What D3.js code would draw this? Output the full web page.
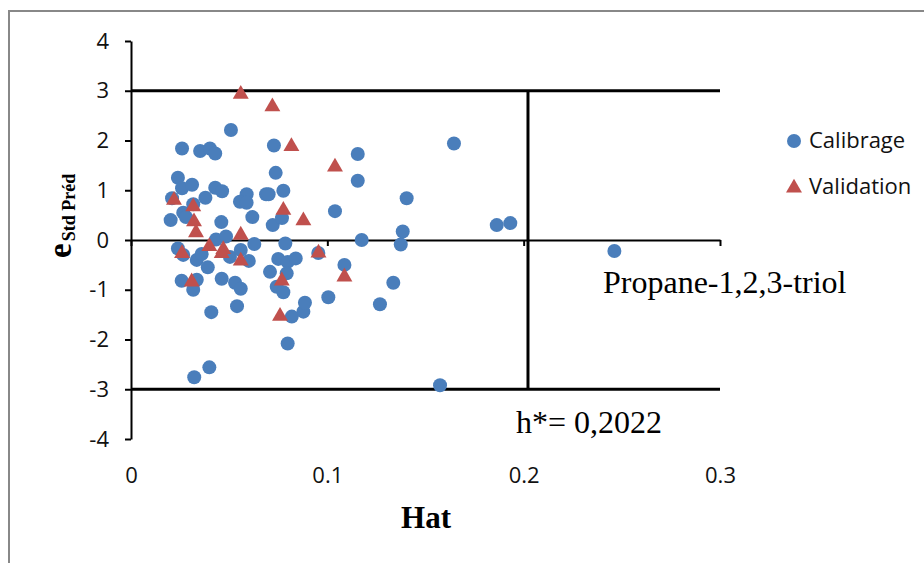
<!DOCTYPE html>
<html>
<head>
<meta charset="utf-8">
<script src="https://cdn.jsdelivr.net/npm/d3@7"></script>
<style>
  body { margin: 0; background: #fff; }
</style>
</head>
<body>
<script>
// Calibrage (blue circles): leverage (hat) and standardized residual
const calHat = [0.0509, 0.0260, 0.0352, 0.0402, 0.0429, 0.0728, 0.0737, 0.0239, 0.0260, 0.0311,
  0.0429, 0.0464, 0.0589, 0.0555, 0.0589, 0.0688, 0.0701, 0.0776, 0.0209, 0.0379,
  0.0317, 0.0266, 0.0280, 0.0202, 0.0460, 0.0618, 0.0722, 0.0769, 0.0433, 0.0484,
  0.0628, 0.0786, 0.0239, 0.0266, 0.0335, 0.0360, 0.0391, 0.0504, 0.0559, 0.0600,
  0.0750, 0.0798, 0.0839, 0.0708, 0.0793, 0.0742, 0.0776, 0.0258, 0.0317, 0.0335,
  0.0462, 0.0530, 0.0559, 0.0409, 0.0540, 0.0819, 0.0878, 0.0886, 0.0798, 0.0399,
  0.0322, 0.1155, 0.1155, 0.1404, 0.1039, 0.1645, 0.1384, 0.1374, 0.1175, 0.1087,
  0.1336, 0.1005, 0.1268, 0.1574, 0.0954, 0.1863, 0.1932, 0.2462];
const calE = [2.21, 1.84, 1.79, 1.84, 1.74, 1.90, 1.35, 1.25, 1.04, 1.11,
  1.05, 0.98, 0.92, 0.77, 0.75, 0.92, 0.92, 0.99, 0.84, 0.85,
  0.72, 0.55, 0.46, 0.40, 0.36, 0.46, 0.30, 0.44, 0.01, 0.07,
  -0.08, -0.07, -0.17, -0.30, -0.40, -0.28, -0.55, -0.34, -0.20, -0.42,
  -0.38, -0.44, -0.37, -0.64, -0.67, -0.94, -1.05, -0.82, -1.00, -0.80,
  -0.78, -0.86, -0.98, -1.45, -1.33, -1.54, -1.44, -1.26, -2.08, -2.56,
  -2.76, 1.73, 1.19, 0.84, 0.58, 1.94, 0.17, -0.09, 0.00, -0.50,
  -0.86, -1.15, -1.29, -2.92, -0.26, 0.30, 0.34, -0.22];

// Validation (red triangles)
const valHat = [0.0559, 0.0720, 0.0817, 0.1039, 0.0219, 0.0317, 0.0776, 0.0321, 0.0878, 0.0331,
  0.0559, 0.0399, 0.0470, 0.0462, 0.0260, 0.0955, 0.0559, 0.1087, 0.0309, 0.0768, 0.0759];
const valE = [2.93, 2.68, 1.88, 1.47, 0.80, 0.67, 0.60, 0.37, 0.39, 0.15,
  0.10, -0.13, -0.19, -0.27, -0.27, -0.26, -0.42, -0.74, -0.84, -0.82, -1.53];

const xTicks = [0, 0.1, 0.2, 0.3];
const yTicks = [-4, -3, -2, -1, 0, 1, 2, 3, 4];
const hStar = 0.2022;
const eLimit = 3;

const width = 924, height = 563;
const blue = "#4a7ebb", red = "#c0504d";
const tickFont = "'Open Sans', sans-serif";
const serif = "'Liberation Serif', 'Times New Roman', serif";

const svg = d3.select("body").append("svg")
    .attr("width", width)
    .attr("height", height);

// chart frame (runs off the right and bottom of the page)
svg.append("rect")
    .attr("x", 9).attr("y", 11)
    .attr("width", 1000).attr("height", 1000)
    .attr("fill", "none")
    .attr("stroke", "#888")
    .attr("stroke-width", 2);

const x = d3.scaleLinear().domain([0, 0.3]).range([131, 720]);
const y = d3.scaleLinear().domain([-4, 4]).range([439, 41]);

// y axis
const yAxis = svg.append("g")
    .attr("transform", `translate(${x(0)},0)`)
    .call(d3.axisLeft(y).tickValues(yTicks).tickFormat(d => String(d))
      .tickSize(6).tickSizeOuter(0).tickPadding(16));
yAxis.select(".domain").attr("stroke", "#000").attr("stroke-width", 2);
yAxis.selectAll(".tick line").attr("stroke", "#000").attr("stroke-width", 2);
yAxis.selectAll("text")
    .attr("font-family", tickFont).attr("font-size", 22).attr("fill", "#111");

// x axis crosses at e = 0, labels sit low
const xAxis = svg.append("g")
    .attr("transform", `translate(0,${y(0)})`)
    .call(d3.axisBottom(x).tickValues(xTicks).tickFormat(d3.format("~g"))
      .tickSize(6).tickSizeOuter(0));
xAxis.select(".domain").attr("stroke", "#000").attr("stroke-width", 2);
xAxis.selectAll(".tick line").attr("stroke", "#000").attr("stroke-width", 2);
xAxis.selectAll("text")
    .attr("y", 483 - y(0)).attr("dy", 0)
    .attr("font-family", tickFont).attr("font-size", 22).attr("fill", "#111");

// limit lines
svg.selectAll(".limit")
    .data([eLimit, -eLimit])
    .enter().append("line")
    .attr("x1", x(0)).attr("x2", x(0.3))
    .attr("y1", d => y(d)).attr("y2", d => y(d))
    .attr("stroke", "#000").attr("stroke-width", 3);

svg.append("line")
    .attr("x1", x(hStar)).attr("x2", x(hStar))
    .attr("y1", y(eLimit)).attr("y2", y(-eLimit))
    .attr("stroke", "#000").attr("stroke-width", 3);

// calibrage points
svg.append("g").selectAll("circle")
    .data(calHat.map((h, i) => [h, calE[i]]))
    .enter().append("circle")
    .attr("cx", d => x(d[0]))
    .attr("cy", d => y(d[1]))
    .attr("r", 7)
    .attr("fill", blue);

// validation points
const tri = d3.symbol().type(d3.symbolTriangle).size(110);
svg.append("g").selectAll("path")
    .data(valHat.map((h, i) => [h, valE[i]]))
    .enter().append("path")
    .attr("d", tri)
    .attr("transform", d => `translate(${x(d[0])},${y(d[1])})`)
    .attr("fill", red);

// annotations
svg.append("text")
    .attr("x", 603).attr("y", 293)
    .attr("font-family", serif).attr("font-size", 32)
    .text("Propane-1,2,3-triol");

svg.append("text")
    .attr("x", 516).attr("y", 433)
    .attr("font-family", serif).attr("font-size", 32)
    .text("h*= 0,2022");

// axis titles
svg.append("text")
    .attr("x", 426).attr("y", 528)
    .attr("text-anchor", "middle")
    .attr("font-family", serif).attr("font-size", 31).attr("font-weight", "bold")
    .text("Hat");

const yTitle = svg.append("text")
    .attr("transform", "translate(71,258) rotate(-90)")
    .attr("font-family", serif).attr("font-weight", "bold");
yTitle.append("tspan").attr("font-size", 33).text("e");
yTitle.append("tspan").attr("font-size", 18).attr("dx", 2).attr("dy", 4).text("Std Préd");

// legend
const legend = svg.append("g").attr("font-family", tickFont).attr("font-size", 22);
legend.append("circle").attr("cx", 794).attr("cy", 141).attr("r", 7).attr("fill", blue);
legend.append("text").attr("x", 809).attr("y", 148).attr("fill", "#111").text("Calibrage");
legend.append("path").attr("d", tri)
    .attr("transform", "translate(794,188)").attr("fill", red);
legend.append("text").attr("x", 809).attr("y", 194).attr("fill", "#111").text("Validation");
</script>
</body>
</html>
